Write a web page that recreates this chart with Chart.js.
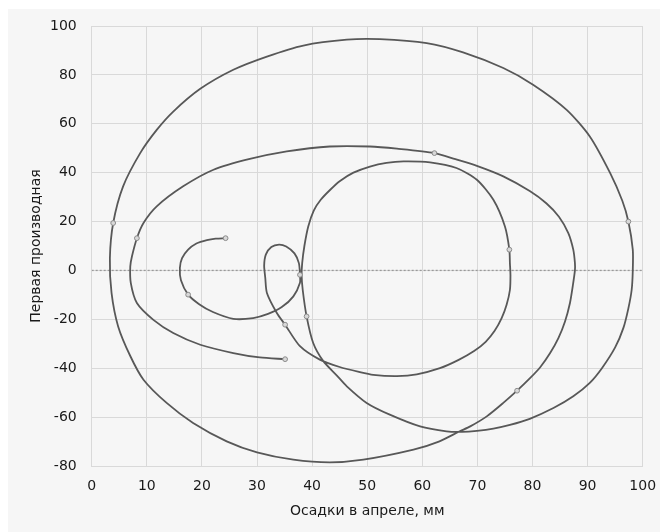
<!DOCTYPE html>
<html>
<head>
<meta charset="utf-8">
<script src="https://cdn.jsdelivr.net/npm/chart.js@4"></script>
<style>
  html, body { margin: 0; padding: 0; background: #ffffff; }
  #wrap { position: absolute; left: 8px; top: 9px; width: 652px; height: 523px; background: #f6f6f6; }
  canvas { display: block; }
</style>
</head>
<body>
<div id="wrap"><canvas id="c" width="652" height="523"></canvas></div>
<script>
// Settlement in April, mm (x) and first derivative (y) along the phase trajectory
const settlement = [
  24.3, 22.5, 20.9, 19.0, 17.5, 16.4, 16.0, 16.2, 17.5, 19.5,
  22.0, 25.7, 29.3, 32.0, 34.5, 36.6, 37.8, 37.8, 37.6, 36.8,
  35.3, 34.0, 32.6, 31.6, 31.3, 31.5, 31.8, 33.6, 35.1, 37.8,
  41.4, 45.0, 48.5, 51.1, 55.4, 59.0, 63.2, 66.6, 69.4, 71.5,
  73.1, 74.4, 75.3, 75.9, 76.0, 75.9, 75.8, 75.0, 72.9, 69.9,
  66.2, 61.4, 56.6, 53.5, 50.5, 47.5, 45.0, 43.2, 41.6, 40.3,
  39.3, 38.6, 38.2, 38.1, 38.3, 39.0, 40.2, 42.0, 44.5, 46.3,
  49.9, 54.1, 59.6, 64.4, 67.2, 69.9, 72.9, 75.9, 79.5, 83.8,
  87.4, 90.4, 92.6, 95.0, 96.5, 97.4, 98.0, 98.2, 98.2, 97.4,
  96.3, 94.1, 90.4, 86.2, 80.1, 74.7, 67.4, 60.8, 52.3, 46.3,
  38.4, 31.8, 25.7, 19.7, 14.8, 11.8, 8.8, 5.7, 3.9, 3.3,
  3.6, 4.8, 7.0, 9.4, 13.6, 18.4, 24.5, 30.0, 36.6, 43.2,
  49.3, 58.4, 63.0, 66.8, 68.7, 71.7, 74.7, 77.2, 79.5, 81.4,
  83.2, 84.7, 85.9, 86.8, 87.3, 87.7, 87.7, 87.4, 86.5, 84.8,
  82.5, 79.5, 74.7, 69.9, 66.0, 62.2, 55.4, 50.5, 43.2, 35.4,
  28.7, 22.1, 16.6, 11.8, 9.4, 8.2, 7.3, 7.0, 7.1, 8.2,
  11.2, 14.8, 19.7, 25.7, 30.5, 35.1
];
const derivative = [
  13.2, 13.0, 12.4, 11.0, 8.5, 5.0, 1.0, -4.0, -9.9, -13.8,
  -17.0, -19.8, -19.5, -17.8, -15.0, -10.6, -5.0, -1.8, 3.0, 7.0,
  9.8, 10.6, 9.6, 6.5, 2.0, -3.0, -9.2, -17.4, -22.2, -31.0,
  -36.5, -39.5, -41.5, -42.7, -43.2, -42.5, -40.0, -36.6, -33.0, -29.2,
  -24.8, -19.5, -14.0, -8.0, -2.0, 3.0, 8.5, 18.0, 28.9, 37.1,
  41.9, 44.2, 44.6, 44.0, 42.5, 40.0, 36.5, 32.8, 29.0, 24.5,
  18.0, 10.0, 3.0, -2.0, -8.0, -18.8, -29.7, -37.0, -43.0, -47.4,
  -54.2, -59.0, -63.8, -65.8, -66.0, -65.6, -64.7, -63.2, -60.7, -56.3,
  -51.5, -46.0, -40.0, -31.5, -23.5, -15.5, -7.9, 0.0, 8.5, 20.0,
  28.5, 39.8, 54.8, 65.7, 76.0, 82.8, 89.2, 93.0, 94.6, 94.4,
  92.0, 87.5, 82.1, 74.3, 65.0, 57.5, 48.0, 34.4, 19.4, 5.0,
  -9.2, -22.9, -35.0, -44.7, -54.2, -62.4, -69.9, -74.4, -77.4, -78.5,
  -77.4, -73.3, -70.0, -65.8, -63.8, -59.7, -54.2, -49.2, -44.2, -39.6,
  -33.8, -27.7, -20.9, -13.3, -6.5, 0.0, 3.0, 8.5, 15.3, 22.0,
  27.5, 32.5, 38.5, 42.8, 45.5, 48.0, 49.8, 50.7, 50.7, 48.7,
  45.6, 41.2, 34.4, 26.2, 19.4, 13.2, 5.7, 1.6, -5.2, -13.3,
  -20.2, -25.6, -30.4, -33.8, -35.6, -36.3
];
// indices of trajectory points that carry a marker
const markerIndex = [0, 8, 17, 28, 46, 65, 89, 108, 127, 145, 155, 165];
// zero reference line
const zeroX = [0, 100];
const zeroY = [0, 0];
// axis ticks
const xTicks = [0, 10, 20, 30, 40, 50, 60, 70, 80, 90, 100];
const yTicks = [-80, -60, -40, -20, 0, 20, 40, 60, 80, 100];

const trajectory = settlement.map((x, i) => ({ x: x, y: derivative[i] }));
const zeroLine = zeroX.map((x, i) => ({ x: x, y: zeroY[i] }));

const FONT = { family: 'DejaVu Sans', size: 14 };
const GRID = '#d9d9d9';

new Chart(document.getElementById('c'), {
  type: 'scatter',
  data: {
    datasets: [
      {
        data: trajectory,
        showLine: true,
        borderColor: '#585858',
        borderWidth: 1.8,
        tension: 0.25,
        pointRadius: (ctx) => markerIndex.includes(ctx.dataIndex) ? 2.4 : 0,
        pointBackgroundColor: '#d8d8d8',
        pointBorderColor: '#8a8a8a',
        pointBorderWidth: 1,
        order: 1
      },
      {
        data: zeroLine,
        showLine: true,
        borderColor: '#9a9a9a',
        borderWidth: 1.3,
        borderDash: [2, 2],
        pointRadius: 0,
        order: 2
      }
    ]
  },
  options: {
    responsive: false,
    animation: false,
    events: [],
    layout: { padding: { left: 0, top: 17, right: 17.3, bottom: 0 } },
    plugins: { legend: { display: false }, tooltip: { enabled: false } },
    scales: {
      x: {
        type: 'linear',
        min: 0, max: 100,
        afterBuildTicks: (s) => { s.ticks = xTicks.map(v => ({ value: v })); },
        afterFit: (s) => { s.height = 66; s.paddingLeft = 0; s.paddingRight = 0; },
        grid: { color: GRID, drawTicks: false, lineWidth: 1 },
        border: { color: GRID },
        ticks: { font: FONT, color: '#1a1a1a', padding: 12 },
        title: { display: true, text: 'Осадки в апреле, мм', font: FONT, color: '#1a1a1a', padding: { top: 0, bottom: 12.6 } }
      },
      y: {
        type: 'linear',
        min: -80, max: 100,
        afterBuildTicks: (s) => { s.ticks = yTicks.map(v => ({ value: v })); },
        afterFit: (s) => { s.width = 83.7; s.paddingTop = 0; s.paddingBottom = 0; },
        grid: { color: GRID, drawTicks: false, lineWidth: 1 },
        border: { color: GRID },
        ticks: { font: FONT, color: '#1a1a1a', padding: 15 },
        title: { display: true, text: 'Первая производная', font: FONT, color: '#1a1a1a', padding: { top: 20, bottom: 0 } }
      }
    }
  }
});
</script>
</body>
</html>
